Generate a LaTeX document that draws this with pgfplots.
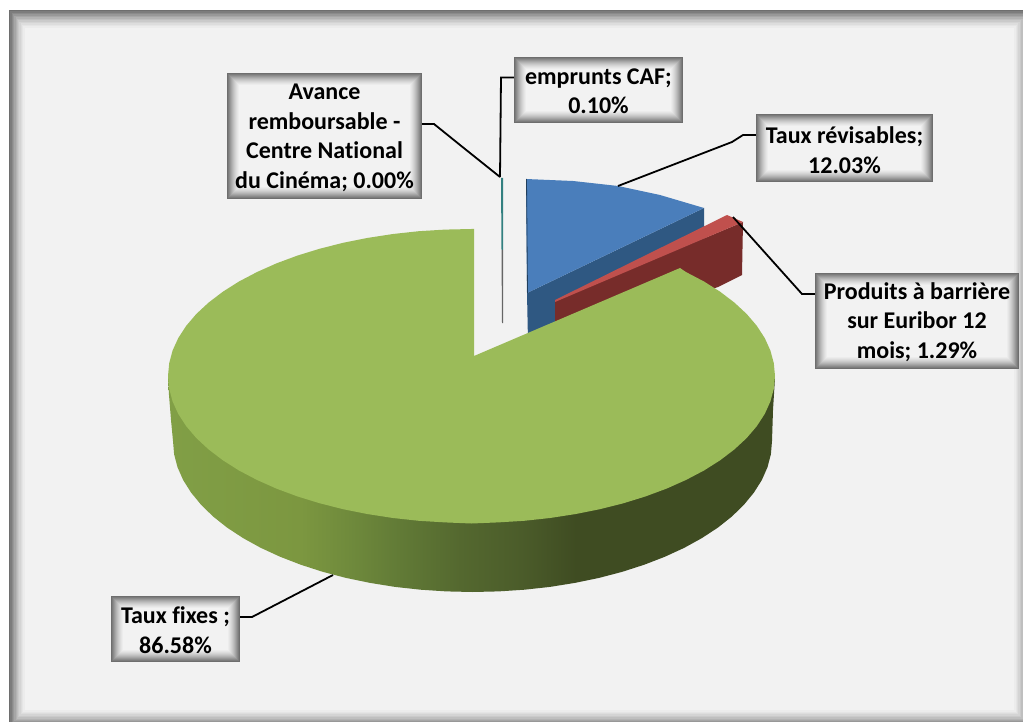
\documentclass[border=0pt]{standalone}
\usepackage{fontspec}
\setmainfont[Ligatures=NoCommon]{Carlito}
\usepackage{pgfplots}
\pgfplotsset{compat=1.18}
\definecolor{bg}{HTML}{F2F2F2}
\definecolor{gtop}{HTML}{9BBB59}
\definecolor{btop}{HTML}{4A7EBB}
\definecolor{bside}{HTML}{2F5882}
\definecolor{rtop}{HTML}{C0504D}
\definecolor{rside}{HTML}{772C2A}
\definecolor{s1}{HTML}{819F46}
\definecolor{s2}{HTML}{7C9740}
\definecolor{s3}{HTML}{6F8A3C}
\definecolor{s4}{HTML}{617A36}
\definecolor{s5}{HTML}{54682F}
\definecolor{s6}{HTML}{4B5C2A}
\definecolor{s7}{HTML}{3F4C22}
\pgfdeclarehorizontalshading{pieside}{100bp}{
 color(0bp)=(s1); color(25bp)=(s1); color(35.9bp)=(s2); color(40bp)=(s3);
 color(44.2bp)=(s4); color(49.1bp)=(s5); color(54.1bp)=(s6); color(58.6bp)=(s7);
 color(75bp)=(s7); color(100bp)=(s7)}
\definecolor{g0}{HTML}{6E6E6E}
\definecolor{g1}{HTML}{7C7C7C}
\definecolor{g2}{HTML}{8A8A8A}
\definecolor{g3}{HTML}{989898}
\definecolor{g4}{HTML}{A6A6A6}
\definecolor{g5}{HTML}{B3B3B3}
\definecolor{g6}{HTML}{BFBFBF}
\definecolor{g7}{HTML}{CACACA}
\definecolor{g8}{HTML}{D4D4D4}
\definecolor{g9}{HTML}{DDDDDD}
\definecolor{g10}{HTML}{E5E5E5}
\definecolor{g11}{HTML}{ECECEC}
\definecolor{g12}{HTML}{F2F2F2}
\newcommand{\rr}[6]{\fill[#6] ([xshift=#5pt,yshift=-#5pt]axis cs:#1,#2) rectangle ([xshift=-#5pt,yshift=#5pt]axis cs:#3,#4);}
\newcommand{\shadedbox}[4]{%
 \rr{#1}{#2}{#3}{#4}{0}{g0}\rr{#1}{#2}{#3}{#4}{1}{g1}\rr{#1}{#2}{#3}{#4}{2}{g2}\rr{#1}{#2}{#3}{#4}{3}{g3}%
 \rr{#1}{#2}{#3}{#4}{4}{g4}\rr{#1}{#2}{#3}{#4}{5}{g5}\rr{#1}{#2}{#3}{#4}{6}{g6}\rr{#1}{#2}{#3}{#4}{7}{g7}%
 \rr{#1}{#2}{#3}{#4}{8}{g8}\rr{#1}{#2}{#3}{#4}{9}{g9}\rr{#1}{#2}{#3}{#4}{10}{g10}\rr{#1}{#2}{#3}{#4}{11}{g11}%
 \rr{#1}{#2}{#3}{#4}{12}{g12}}
\begin{document}
\begin{tikzpicture}[lab/.style={font=\fontsize{24}{29.5}\selectfont\bfseries,align=center,inner sep=0pt,anchor=center,text=black}]
\begin{axis}[scale only axis,width=1023pt,height=722pt,xmin=0,xmax=1023,ymin=0,ymax=722,
 y dir=reverse,hide axis,clip=false,no markers]
\fill[white] (axis cs:0,0) rectangle (axis cs:1023,722);
% frame
\rr{9}{10}{1023}{722}{0}{g0}
\rr{10.3}{11.5}{1023}{722}{0}{g1}
\rr{11.6}{13}{1023}{722}{0}{g2}
\rr{12.9}{14.5}{1023}{722}{0}{g3}
\rr{14.2}{16}{1023}{721.4}{0}{g4}
\rr{15.5}{17.5}{1023}{720}{0}{g5}
\rr{16.8}{19}{1022.6}{718.6}{0}{g6}
\rr{18.1}{20.5}{1021.2}{717.2}{0}{g7}
\rr{19.4}{22}{1019.8}{715.8}{0}{g8}
\rr{20.7}{23.5}{1018.4}{714.4}{0}{g9}
\rr{22}{25}{1017}{713}{0}{g10}
\rr{23.3}{26.5}{1015.6}{711.6}{0}{g11}
\rr{24.6}{28}{1014.2}{710.2}{0}{g12}
% side of the green slice
\addplot[shading=pieside,draw=none] coordinates {
 (168,378)(169,395)(171,420)(173,441)(174.1,454.2)(177.5,467.2)(183.2,480.1)(191.1,492.6)(201.1,504.8)(213.1,516.5)(227.1,527.6)(243.1,538.1)
 (260.7,547.8)(280,556.7)(300.7,564.7)(322.7,571.8)(345.9,577.9)(370.1,582.9)(395,586.9)(420.5,589.7)(446.4,591.4)(472.5,592)
 (498.6,591.4)(524.5,589.7)(550,586.9)(574.9,582.9)(599.1,577.9)(622.3,571.8)(644.3,564.7)(665,556.7)(684.3,547.8)(701.9,538.1)
 (717.9,527.6)(731.9,516.5)(743.9,504.8)(753.9,492.6)(761.8,480.1)(767.5,467.2)(770.9,454.2)(772,441)(773,410)(775,378)
 (500,378)} --cycle;
% blue slice
\addplot[fill=bside,draw=none] coordinates {(527,293)(704,208)(704,260)(528,342)} --cycle;
\addplot[fill=btop,draw=none] coordinates {(526,179)(573,181)(618,186)(660,195)(704,208)(527,293)} --cycle;
\addplot[color=bside!70!black,line width=0.8pt] coordinates {(526.5,179)(527.5,293)};
% red slice
\addplot[fill=rside,draw=none] coordinates {(555,301)(743,222)(742,275)(718,287)(680,300)(555,330)} --cycle;
\addplot[fill=rtop,draw=none] coordinates {(555,300)(727,215)(743,222)(555,302)} --cycle;
% emprunts CAF sliver
\addplot[fill=teal!60!gray,draw=none] coordinates {(501,178)(503,178)(503,250)(501.5,250)} --cycle;
\addplot[fill=black!60,draw=none] coordinates {(501.5,250)(503,250)(503,323)(502,323)} --cycle;
% green slice top
\addplot[fill=gtop,draw=none] coordinates {
 (474,229)(471.5,229)(445,229.6)(418.8,231.2)(393,234)(367.7,237.9)(343.2,242.8)(319.8,248.7)(297.4,255.6)(276.4,263.4)(256.9,272.1)(239,281.5)
 (222.9,291.7)(208.7,302.5)(196.4,313.9)(186.3,325.7)(178.3,338)(172.6,350.5)(169.2,363.2)(168,376)(169.2,388.8)(172.6,401.5)(178.3,414)(186.3,426.3)
 (196.4,438.1)(208.7,449.5)(222.9,460.3)(239,470.5)(256.9,479.9)(276.4,488.6)(297.4,496.4)(319.8,503.3)(343.2,509.2)(367.7,514.1)(393,518)(418.8,520.8)
 (445,522.4)(471.5,523.5)(498,522.4)(524.2,520.8)(550,518)(575.3,514.1)(599.8,509.2)(623.3,503.3)(645.6,496.4)(666.6,488.6)(686.1,479.9)(704,470.5)
 (720.1,460.3)(734.3,449.5)(746.6,438.1)(756.7,426.3)(764.7,414)(770.4,401.5)(773.8,388.8)(775,376)(773.8,363.2)(770.4,350.5)(764.7,338)(756.7,325.7)
 (746.6,313.9)(734.3,302.5)(720.1,291.7)(704,281.5)(686.1,272.1)(680,268)(474,356)} --cycle;
% leader lines
\addplot[black,line width=1.8pt] coordinates {(422,124)(434,124)(465,149)(500,177)};
\addplot[black,line width=1.8pt] coordinates {(514,77.5)(501,77.5)(500,177)};
\addplot[black,line width=1.8pt] coordinates {(756,135)(743,135)(732,142)(618,186)};
\addplot[black,line width=1.8pt] coordinates {(815,294)(802,294)(733,217)};
\addplot[black,line width=1.8pt] coordinates {(240,617)(252,617)(333,575)};
% labels
\shadedbox{227}{73}{422}{199}
\shadedbox{514}{57}{683}{123}
\shadedbox{756}{114}{933}{182}
\shadedbox{815}{273}{1019}{369}
\shadedbox{111}{596}{240}{662}
\node[lab] at (axis cs:324.5,138) {Avance\\remboursable -\\Centre National\\du Cinéma; 0.00\%};
\node[lab] at (axis cs:598.5,91) {emprunts CAF;\\0.10\%};
\node[lab] at (axis cs:844.5,150) {Taux révisables;\\12.03\%};
\node[lab] at (axis cs:917,322) {Produits à barrière\\sur Euribor 12\\mois; 1.29\%};
\node[lab] at (axis cs:175.5,630) {Taux fixes ;\\86.58\%};
\end{axis}
\end{tikzpicture}
\end{document}
